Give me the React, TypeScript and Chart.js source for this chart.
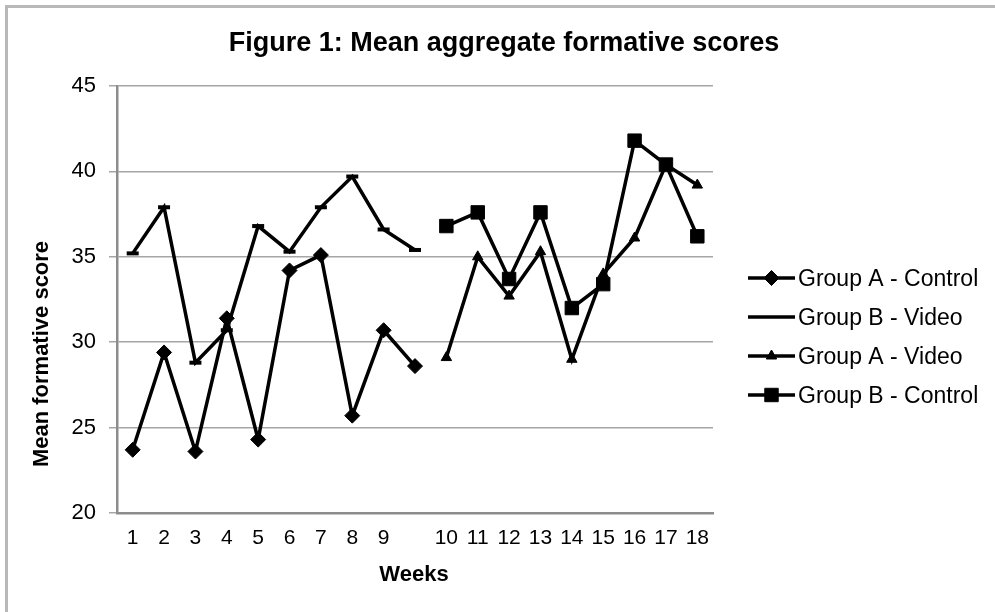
import React, { useEffect, useRef } from 'react';
import { Chart, registerables } from 'chart.js';
import { drawPoint } from 'chart.js/helpers';

Chart.register(...registerables);

const chartTitle = 'Figure 1: Mean aggregate formative scores';
const xAxisTitle = 'Weeks';
const yAxisTitle = 'Mean formative score';

const weekLabels = ['1', '2', '3', '4', '5', '6', '7', '8', '9', '', '10', '11', '12', '13', '14', '15', '16', '17', '18'];

const groupAControl = [23.7, 29.4, 23.6, 31.4, 24.3, 34.2, 35.1, 25.7, 30.7, 28.6, null, null, null, null, null, null, null, null, null];
const groupBVideo = [35.2, 37.9, 28.8, 30.7, 36.8, 35.3, 37.9, 39.7, 36.6, 35.4, null, null, null, null, null, null, null, null, null];
const groupAVideo = [null, null, null, null, null, null, null, null, null, null, 29.1, 35.0, 32.7, 35.3, 29.0, 34.0, 36.1, 40.4, 39.2];
const groupBControl = [null, null, null, null, null, null, null, null, null, null, 36.8, 37.6, 33.7, 37.6, 32.0, 33.4, 41.8, 40.4, 36.2];

const seriesNames = ['Group A - Control', 'Group B - Video', 'Group A - Video', 'Group B - Control'];

const yMin = 20;
const yMax = 45;
const yStep = 5;

const FONT = '"Liberation Sans", Arial, sans-serif';

const decorPlugin = {
  id: 'decor',
  afterDraw(chart: any) {
    const ctx = chart.ctx as CanvasRenderingContext2D;
    const area = chart.chartArea;
    ctx.save();
    ctx.fillStyle = '#000';
    // Title
    ctx.font = `bold 27px ${FONT}`;
    ctx.textAlign = 'center';
    ctx.textBaseline = 'alphabetic';
    ctx.fillText(chartTitle, 504, 51);
    // X axis title
    ctx.font = `bold 22px ${FONT}`;
    ctx.fillText(xAxisTitle, (area.left + area.right) / 2 - 1, 581);
    // Y axis title
    ctx.save();
    ctx.translate(42, 354);
    ctx.rotate(-Math.PI / 2);
    ctx.font = `bold 22px ${FONT}`;
    ctx.textAlign = 'center';
    ctx.textBaseline = 'middle';
    ctx.fillText(yAxisTitle, 0, 0);
    ctx.restore();
    // Legend
    const rowY = [278, 317, 356, 395];
    chart.data.datasets.forEach((ds: any, i: number) => {
      const y = rowY[i];
      ctx.strokeStyle = '#000';
      ctx.lineWidth = 3.5;
      ctx.beginPath();
      ctx.moveTo(748, y);
      ctx.lineTo(795, y);
      ctx.stroke();
      if (ds.pointStyle !== 'line') {
        ctx.fillStyle = '#000';
        ctx.strokeStyle = '#000';
        ctx.lineWidth = ds.pointBorderWidth;
        drawPoint(ctx, { pointStyle: ds.pointStyle, radius: ds.pointRadius, rotation: 0, borderWidth: ds.pointBorderWidth }, 771.5, y);
      }
      ctx.fillStyle = '#000';
      ctx.font = `23px ${FONT}`;
      ctx.textAlign = 'left';
      ctx.textBaseline = 'alphabetic';
      ctx.fillText(ds.label, 798, y + 8);
    });
    ctx.restore();
  },
};

export default function App() {
  const canvasRef = useRef<HTMLCanvasElement>(null);

  useEffect(() => {
    if (!canvasRef.current) return;
    Chart.defaults.font.family = FONT;
    const base = {
      borderColor: '#000',
      backgroundColor: '#000',
      borderWidth: 3.5,
      tension: 0,
      pointBackgroundColor: '#000',
      pointBorderColor: '#000',
      spanGaps: false,
    };
    const chart = new Chart(canvasRef.current, {
      type: 'line',
      data: {
        labels: weekLabels,
        datasets: [
          { ...base, label: seriesNames[0], data: groupAControl, pointStyle: 'rectRot', pointRadius: 7.5, pointBorderWidth: 1 },
          { ...base, label: seriesNames[1], data: groupBVideo, pointStyle: 'line', pointRadius: 6, pointBorderWidth: 4 },
          { ...base, label: seriesNames[2], data: groupAVideo, pointStyle: 'triangle', pointRadius: 6, pointBorderWidth: 1 },
          { ...base, label: seriesNames[3], data: groupBControl, pointStyle: 'rect', pointRadius: 9.5, pointBorderWidth: 1 },
        ],
      },
      options: {
        responsive: false,
        animation: false,
        devicePixelRatio: 1,
        layout: { padding: { left: 0, top: 86, right: 282, bottom: 0 } },
        plugins: {
          legend: { display: false },
          title: { display: false },
          tooltip: { enabled: false },
        },
        scales: {
          x: {
            type: 'category',
            offset: true,
            grid: { display: false, drawTicks: false },
            border: { display: true, color: '#8c8c8c', width: 2.5 },
            ticks: {
              autoSkip: false,
              maxRotation: 0,
              minRotation: 0,
              color: '#000',
              font: { size: 21, family: FONT },
              padding: 13,
            },
            afterFit(scale: any) {
              scale.height = 99;
            },
          },
          y: {
            min: yMin,
            max: yMax,
            ticks: {
              stepSize: yStep,
              color: '#000',
              font: { size: 22, family: FONT },
              padding: 13,
            },
            grid: { color: '#a6a6a6', lineWidth: 1.5, tickLength: 8, drawTicks: true },
            border: { display: true, color: '#8c8c8c', width: 2.5 },
            afterFit(scale: any) {
              scale.width = 117;
            },
          },
        },
      },
      plugins: [decorPlugin],
    });
    return () => chart.destroy();
  }, []);

  return (
    <div style={{ position: 'fixed', left: 0, top: 0, width: 995, height: 612, overflow: 'hidden', background: '#fff' }}>
      <div
        style={{
          position: 'absolute',
          left: 5,
          top: 5,
          width: 1200,
          height: 800,
          borderTop: '3px solid #b8b8b8',
          borderLeft: '3px solid #b8b8b8',
        }}
      />
      <canvas ref={canvasRef} width={995} height={612} style={{ position: 'absolute', left: 0, top: 0 }} />
    </div>
  );
}
